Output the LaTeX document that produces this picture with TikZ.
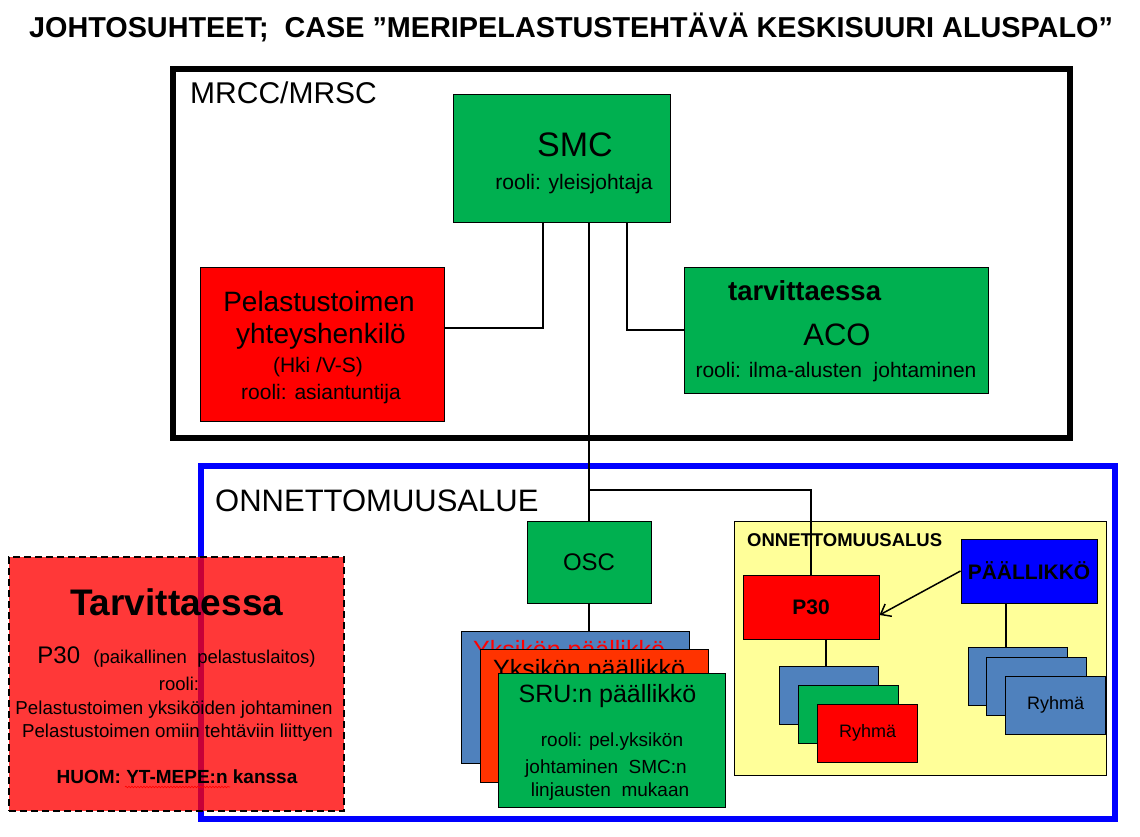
\documentclass[tikz,border=0pt]{standalone}
\usepackage{fontspec}
\setmainfont{Liberation Sans}
\usepackage{tikz}
\usetikzlibrary{arrows.meta,decorations.pathmorphing}
\definecolor{smcgreen}{RGB}{0,176,80}
\definecolor{alarmred}{RGB}{255,0,0}
\definecolor{unitorange}{RGB}{255,51,0}
\definecolor{steel}{RGB}{79,129,189}
\definecolor{shipyellow}{RGB}{255,255,153}
\definecolor{areablue}{RGB}{0,0,255}
\newcommand{\fsz}[1]{\fontsize{#1}{#1}\selectfont}

\begin{document}
\begin{tikzpicture}[x=1pt,y=-1pt,
    box/.style={draw,line width=1pt,inner sep=0pt},
    lbl/.style={anchor=base,inner sep=0pt},
    lblw/.style={anchor=base west,inner sep=0pt},
    link/.style={line width=1.5pt}]
  \useasboundingbox[fill=white] (0,0) rectangle (1140,837);
  \node[lbl,font=\bfseries\fsz{28.8}] (title) at (571,38)
    {JOHTOSUHTEET;\ \ CASE ”MERIPELASTUSTEHTÄVÄ KESKISUURI ALUSPALO”};
  % MRCC/MRSC
  \draw[line width=6pt] (173,69) rectangle (1070,438);
  \node[lblw,font=\fsz{30}] (mrcc) at (190,104) {MRCC/MRSC};
  \node[box,fill=smcgreen,minimum width=217pt,minimum height=127pt] (smc) at (561.5,158.5) {};
  \node[lbl,font=\fsz{34}] (smct) at (575,157) {SMC};
  \node[lbl,font=\fsz{21}] (smcr) at (574,190) {rooli: yleisjohtaja};
  \node[box,fill=alarmred,minimum width=244pt,minimum height=154pt] (pel) at (322,344) {};
  \node[lbl,font=\fsz{28}] (pel1) at (319,311) {Pelastustoimen};
  \node[lbl,font=\fsz{28}] (pel2) at (321,343) {yhteyshenkilö};
  \node[lbl,font=\fsz{21}] (pel3) at (318,372) {(Hki /V-S)};
  \node[lbl,font=\fsz{21}] (pel4) at (321,399) {rooli: asiantuntija};
  \node[box,fill=smcgreen,minimum width=304pt,minimum height=126pt] (aco) at (836,330) {};
  \node[lblw,font=\bfseries\fsz{27.5}] (aco1) at (728,300) {tarvittaessa};
  \node[lbl,font=\fsz{31}] (aco2) at (837,345) {ACO};
  \node[lbl,font=\fsz{21}] (aco3) at (836,377) {rooli: ilma-alusten\ \ johtaminen};
  % onnettomuusalue
  \draw[areablue,line width=5.5pt] (201,466) rectangle (1115,819);
  \node[lblw,font=\fsz{31}] (alue) at (215,511) {ONNETTOMUUSALUE};
  \node[box,fill=smcgreen,minimum width=124pt,minimum height=82pt,font=\fsz{24}] (osc) at (589,562) {OSC};
  \node[box,fill=steel,minimum width=228pt,minimum height=132pt] (yb1) at (575,697) {};
  \node[lblw,font=\fsz{25},text=alarmred] (yb1t) at (473,658) {Yksikön päällikkö};
  \node[box,fill=unitorange,minimum width=228pt,minimum height=133pt] (yb2) at (594,715.5) {};
  \node[lblw,font=\fsz{25}] (yb2t) at (493,677) {Yksikön päällikkö};
  \node[box,fill=smcgreen,minimum width=227pt,minimum height=134pt] (sru) at (611.5,740) {};
  \node[lbl,font=\fsz{25}] (sru1) at (607.5,702) {SRU:n päällikkö};
  \node[lbl,font=\fsz{19}] (sru2) at (612,746) {rooli: pel.yksikön};
  \node[lbl,font=\fsz{19}] (sru3) at (606,773) {johtaminen\ \ SMC:n};
  \node[lbl,font=\fsz{19}] (sru4) at (610,796) {linjausten\ \ mukaan};
  % onnettomuusalus
  \draw[fill=shipyellow,line width=1pt] (734,521) rectangle (1106,775);
  \node[lblw,font=\bfseries\fsz{18.5}] (alus) at (747,546) {ONNETTOMUUSALUS};
  \node[box,fill=alarmred,minimum width=136pt,minimum height=64pt,font=\bfseries\fsz{21}] (p30) at (811,607) {P30};
  \node[box,fill=areablue,minimum width=136pt,minimum height=64pt,font=\bfseries\fsz{21}] (paal) at (1029,571) {PÄÄLLIKKÖ};
  \foreach \i/\x/\y/\c/\t in {1/829/695/steel/,2/848.5/714/smcgreen/,3/867.5/733/alarmred/Ryhmä}
    \node[box,fill=\c,minimum width=99.5pt,minimum height=58pt,font=\fsz{18}] (rl\i) at (\x,\y) {\t};
  \foreach \i/\x/\y/\t in {1/1018/676.5/,2/1036.5/686/,3/1055.5/705/Ryhmä}
    \node[box,fill=steel,minimum width=99.5pt,minimum height=58pt,font=\fsz{18}] (rr\i) at (\x,\y) {\t};
  % yhteydet
  \draw[link] ([xshift=-18.5pt]smc.south) |- ([yshift=16pt]pel.east);
  \draw[link] ([xshift=65.5pt]smc.south) |- (aco.west);
  \coordinate (jn) at (589,490);
  \draw[link] ([xshift=27.5pt]smc.south) -- (osc.north);
  \draw[link] (jn) -| (p30.north);
  \draw[link] (osc.south) -- (osc.south |- yb1.north);
  \draw[link] ([xshift=15pt]p30.south) -- ([xshift=15pt]p30.south |- rl1.north);
  \draw[link] ([xshift=-23pt]paal.south) -- ([xshift=-23pt]paal.south |- rr1.north);
  \draw[link,-{Straight Barb[length=9pt,width=14pt]}] (paal.west) -- ([yshift=-8pt]p30.east);
  % tarvittaessa
  \node[draw,fill=alarmred,fill opacity=0.78,line width=2.6pt,dash pattern=on 7pt off 4pt,
        minimum width=335pt,minimum height=254pt] (tarv) at (176.5,684) {};
  \node[lbl,font=\bfseries\fsz{37}] (tarv1) at (176.7,615) {Tarvittaessa};
  \node[lbl] (tarv2) at (176.5,663) {\fsz{24}P30\ \ \fsz{18.5}(paikallinen\ \ pelastuslaitos)};
  \node[lbl,font=\fsz{18.5}] (tarv3) at (179,690) {rooli:};
  \node[lbl,font=\fsz{18.7}] (tarv4) at (174,714) {Pelastustoimen yksiköiden johtaminen};
  \node[lbl,font=\fsz{18.7}] (tarv5) at (177.5,737) {Pelastustoimen omiin tehtäviin liittyen};
  \node[lbl,font=\bfseries\fsz{19}] (tarv6) at (177,783) {HUOM: YT-MEPE:n kanssa};
  \draw[alarmred,line width=0.6pt,decorate,decoration={snake,amplitude=0.8pt,segment length=3pt}]
    (125,787) -- (230,787);
\end{tikzpicture}
\end{document}
